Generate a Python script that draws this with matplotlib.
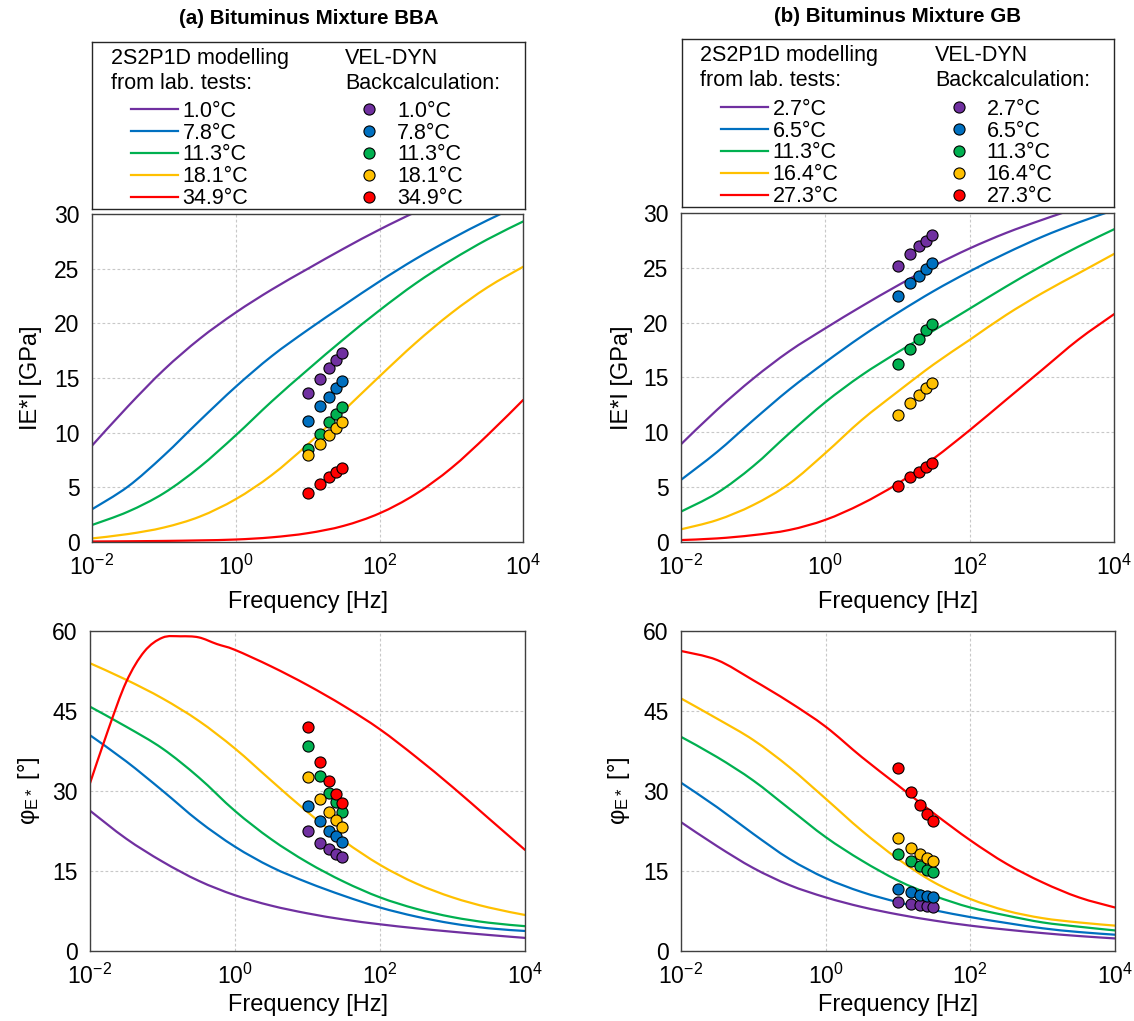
import numpy as np
import matplotlib
matplotlib.use("Agg")
import matplotlib.pyplot as plt
from matplotlib.path import Path
from matplotlib.patches import PathPatch
from matplotlib.ticker import FixedLocator, FuncFormatter

plt.rcParams['font.family'] = ['Liberation Sans', 'DejaVu Sans']
plt.rcParams['mathtext.fontset'] = 'custom'
plt.rcParams['mathtext.rm'] = 'Liberation Sans'
plt.rcParams['mathtext.it'] = 'Liberation Sans:italic'
plt.rcParams['mathtext.bf'] = 'Liberation Sans:bold'

# ---- data ----
freq_curve = [0.01, 0.0316, 0.1, 0.316, 1, 3.16, 10, 31.6, 100, 316, 1000, 3162, 10000]
freq_pts = [10, 15, 20, 25, 30]

colors = ['#7030A0', '#0070C0', '#00B050', '#FFC000', '#FF0000']

bba_temps = ['1.0°C', '7.8°C', '11.3°C', '18.1°C', '34.9°C']
gb_temps = ['2.7°C', '6.5°C', '11.3°C', '16.4°C', '27.3°C']

# |E*| model curves [GPa]
bba_E_curves = [
    [8.8, 12.4, 15.75, 18.6, 21.0, 23.1, 25.0, 26.85, 28.6, 30.2, 31.6, 32.8, 33.8],
    [2.97, 5.05, 7.9, 11.1, 14.2, 17.0, 19.4, 21.65, 23.85, 25.9, 27.75, 29.45, 31.0],
    [1.53, 2.75, 4.45, 6.85, 9.75, 12.85, 15.75, 18.55, 21.2, 23.65, 25.8, 27.7, 29.35],
    [0.3, 0.7, 1.3, 2.3, 3.9, 6.1, 8.9, 12.0, 15.15, 18.2, 20.95, 23.3, 25.2],
    [0.02, 0.04, 0.07, 0.12, 0.2, 0.4, 0.78, 1.45, 2.6, 4.35, 6.75, 9.75, 13.0],
]
gb_E_curves = [
    [8.9, 12.05, 14.9, 17.4, 19.5, 21.5, 23.4, 25.2, 26.8, 28.2, 29.4, 30.5, 31.4],
    [5.65, 8.2, 11.1, 13.9, 16.4, 18.75, 20.9, 22.9, 24.7, 26.35, 27.85, 29.15, 30.3],
    [2.75, 4.45, 6.9, 9.9, 12.75, 15.2, 17.3, 19.3, 21.3, 23.3, 25.2, 26.95, 28.55],
    [1.13, 1.98, 3.35, 5.3, 8.1, 11.1, 13.7, 16.2, 18.45, 20.7, 22.7, 24.5, 26.3],
    [0.15, 0.3, 0.6, 1.07, 2.0, 3.45, 5.3, 7.6, 10.2, 12.95, 15.7, 18.45, 20.8],
]

# phase angle model curves [deg]
bba_phi_curves = [
    [26.25, 21.0, 16.7, 13.1, 10.4, 8.45, 7.0, 5.85, 4.95, 4.2, 3.55, 2.95, 2.4],
    [40.4, 35.5, 30.0, 24.3, 19.5, 15.7, 12.8, 10.3, 8.1, 6.4, 5.1, 4.2, 3.7],
    [45.75, 42.0, 37.9, 32.5, 26.2, 20.9, 16.55, 12.95, 10.0, 7.85, 6.3, 5.25, 4.6],
    [53.9, 50.8, 47.3, 43.1, 37.9, 31.9, 26.0, 20.6, 16.1, 12.6, 10.0, 8.1, 6.7],
]
# the 34.9°C phase curve needs a denser frequency list around its peak
bba_phi_red_freq = [0.01, 0.0178, 0.0316, 0.0562, 0.1, 0.178, 0.316, 0.562,
                    1, 3.16, 10, 31.6, 100, 316, 1000, 3162, 10000]
bba_phi_red = [31.4, 41.4, 50.4, 56.1, 58.7, 58.95, 58.75, 57.5,
               56.4, 53.3, 49.8, 45.9, 41.5, 36.3, 30.7, 24.8, 18.9]

gb_phi_curves = [
    [24.1, 19.6, 15.5, 12.3, 10.0, 8.2, 6.8, 5.65, 4.7, 3.95, 3.3, 2.75, 2.3],
    [31.5, 26.9, 21.9, 17.2, 13.6, 11.0, 9.1, 7.6, 6.3, 5.2, 4.2, 3.5, 3.0],
    [40.1, 36.3, 31.9, 26.6, 21.3, 16.9, 13.15, 10.3, 8.1, 6.6, 5.3, 4.5, 3.8],
    [47.3, 43.5, 39.5, 34.4, 28.5, 22.5, 17.2, 12.8, 9.7, 7.5, 6.1, 5.3, 4.7],
]
gb_phi_red = [56.2, 54.5, 50.7, 46.6, 42.0, 36.3, 31.0, 25.7, 20.7, 16.3, 12.8, 10.0, 8.1]

# VEL-DYN backcalculated points
bba_E_pts = [
    [13.6, 14.9, 15.9, 16.65, 17.3],
    [11.07, 12.4, 13.3, 14.06, 14.7],
    [8.45, 9.88, 10.95, 11.7, 12.3],
    [7.9, 8.97, 9.8, 10.4, 10.98],
    [4.45, 5.3, 5.9, 6.35, 6.77],
]
gb_E_pts = [
    [25.2, 26.3, 27.0, 27.5, 28.0],
    [22.4, 23.6, 24.3, 24.9, 25.5],
    [16.25, 17.6, 18.5, 19.3, 19.85],
    [11.55, 12.7, 13.4, 14.0, 14.5],
    [5.05, 5.9, 6.4, 6.85, 7.2],
]
bba_phi_pts = [
    [22.4, 20.25, 19.0, 18.2, 17.55],
    [27.2, 24.3, 22.45, 21.45, 20.4],
    [38.3, 32.7, 29.65, 27.8, 26.1],
    [32.5, 28.4, 26.05, 24.55, 23.25],
    [41.95, 35.3, 31.8, 29.4, 27.75],
]
gb_phi_pts = [
    [9.08, 8.78, 8.5, 8.3, 8.27],
    [11.6, 10.96, 10.5, 10.2, 10.0],
    [18.2, 16.8, 15.85, 15.2, 14.7],
    [21.1, 19.3, 18.2, 17.4, 16.8],
    [34.3, 29.8, 27.3, 25.6, 24.25],
]

# ---- layout helpers (pixel boxes) ----
W, H = 1134, 1021
fig = plt.figure(figsize=(W / 100, H / 100), dpi=100)


def px_axes(l, t, r, b):
    return fig.add_axes([l / W, 1 - b / H, (r - l) / W, (b - t) / H])


TICK_FS = 16.5
LAB_FS = 17
LEG_FS = 15.5


def smooth_line(ax, freqs, vals, color):
    # Excel-style smoothed line: Catmull-Rom segments as cubic Beziers in log-x space
    x = np.log10(np.asarray(freqs, float))
    y = np.asarray(vals, float)
    xp = np.r_[x[0], x, x[-1]]
    yp = np.r_[y[0], y, y[-1]]
    verts = [(x[0], y[0])]
    codes = [Path.MOVETO]
    for i in range(1, len(xp) - 2):
        c1 = (xp[i] + (xp[i + 1] - xp[i - 1]) / 6, yp[i] + (yp[i + 1] - yp[i - 1]) / 6)
        c2 = (xp[i + 1] - (xp[i + 2] - xp[i]) / 6, yp[i + 1] - (yp[i + 2] - yp[i]) / 6)
        verts += [c1, c2, (xp[i + 1], yp[i + 1])]
        codes += [Path.CURVE4] * 3
    verts = np.array(verts)
    verts[:, 0] = 10 ** verts[:, 0]
    ax.add_patch(PathPatch(Path(verts, codes), fill=False, edgecolor=color,
                           lw=1.6, zorder=2, capstyle='round'))


def style_axes(ax, ymax, ystep, ylabel, ylab_x, xlab_y):
    ax.set_xscale('log')
    ax.set_xlim(1e-2, 1e4)
    ax.set_ylim(0, ymax)
    ax.xaxis.set_major_locator(FixedLocator([1e-2, 1, 1e2, 1e4]))
    ax.xaxis.set_minor_locator(FixedLocator([]))
    ax.xaxis.set_major_formatter(FuncFormatter(
        lambda v, p: r'$\mathregular{10^{%d}}$' % int(round(np.log10(v)))))
    ax.set_yticks(np.arange(0, ymax + 0.1, ystep))
    ax.tick_params(length=0, labelsize=TICK_FS)
    ax.tick_params(axis='y', pad=9)
    ax.tick_params(axis='x', pad=9)
    ax.grid(True, which='major', ls=(0, (2.5, 2)), color='#C8C8C8', lw=0.8)
    ax.set_axisbelow(True)
    for s in ax.spines.values():
        s.set_color('#404040')
        s.set_linewidth(1.0)
    ax.set_ylabel(ylabel, fontsize=LAB_FS)
    ax.yaxis.set_label_coords(ylab_x, 0.5)
    ax.set_xlabel('Frequency [Hz]', fontsize=LAB_FS)
    ax.xaxis.set_label_coords(0.5, xlab_y)


def draw_panel(ax, curves, curve_freqs, pts):
    for c, f, y in zip(colors, curve_freqs, curves):
        smooth_line(ax, f, y, c)
    for c, y in zip(colors, pts):
        ax.plot(freq_pts, y, 'o', ms=8, mfc=c, mec='black', mew=0.8,
                ls='none', zorder=3)


def draw_legend(l, t, r, b, temps, x_line, x_dot, x_head2, row_mid):
    lax = px_axes(l, t, r, b)
    lax.set_xticks([])
    lax.set_yticks([])
    for s in lax.spines.values():
        s.set_color('#262626')
        s.set_linewidth(1.0)
    lines = [plt.Line2D([], [], color=c, lw=1.6) for c in colors]
    dots = [plt.Line2D([], [], marker='o', ms=8, mfc=c, mec='black', mew=0.8,
                       ls='none') for c in colors]
    head1_x = l + 18.5
    fig.text(head1_x / W, 1 - (t + 16.5) / H, '2S2P1D modelling',
             fontsize=LEG_FS, va='center', ha='left')
    fig.text(head1_x / W, 1 - (t + 41.5) / H, 'from lab. tests:',
             fontsize=LEG_FS, va='center', ha='left')
    fig.text(x_head2 / W, 1 - (t + 16.5) / H, 'VEL-DYN',
             fontsize=LEG_FS, va='center', ha='left')
    fig.text(x_head2 / W, 1 - (t + 41.5) / H, 'Backcalculation:',
             fontsize=LEG_FS, va='center', ha='left')
    fig.legend(lines, temps, loc='center left',
               bbox_to_anchor=(x_line / W, 1 - row_mid / H),
               frameon=False, fontsize=LEG_FS, handlelength=2.2,
               handletextpad=0.2, labelspacing=0.04, borderpad=0,
               borderaxespad=0)
    fig.legend(dots, temps, loc='center left',
               bbox_to_anchor=((x_dot - 12.9) / W, 1 - row_mid / H),
               frameon=False, fontsize=LEG_FS, handlelength=1.2,
               handletextpad=0.7, labelspacing=0.04, borderpad=0,
               borderaxespad=0)


# ---- panels ----
ax_tl = px_axes(92, 214.3, 523.3, 541.7)
draw_panel(ax_tl, bba_E_curves, [freq_curve] * 5, bba_E_pts)
style_axes(ax_tl, 30, 5, 'IE*I [GPa]', -0.116, -0.150)

ax_tr = px_axes(681, 213.3, 1114.3, 541.7)
draw_panel(ax_tr, gb_E_curves, [freq_curve] * 5, gb_E_pts)
style_axes(ax_tr, 30, 5, 'IE*I [GPa]', -0.111, -0.150)

ax_bl = px_axes(90, 630.7, 525, 950.7)
draw_panel(ax_bl, bba_phi_curves + [bba_phi_red],
           [freq_curve] * 4 + [bba_phi_red_freq], bba_phi_pts)
style_axes(ax_bl, 60, 15, r'φ$_{\mathregular{E*}}$ [°]', -0.110, -0.135)

ax_br = px_axes(681, 630.7, 1115, 950.7)
draw_panel(ax_br, gb_phi_curves + [gb_phi_red], [freq_curve] * 5, gb_phi_pts)
style_axes(ax_br, 60, 15, r'φ$_{\mathregular{E*}}$ [°]', -0.113, -0.135)

# ---- legend boxes ----
draw_legend(92.3, 41.7, 525, 209, bba_temps, 131, 369.3, 345, 155)
draw_legend(681.7, 39.3, 1114, 206.7, gb_temps, 721, 958.5, 935, 153)

# ---- titles ----
fig.text(309 / W, 1 - 18 / H, '(a) Bituminus Mixture BBA', fontsize=14.8,
         fontweight='bold', ha='center', va='center')
fig.text(898 / W, 1 - 17 / H, '(b) Bituminus Mixture GB', fontsize=14.8,
         fontweight='bold', ha='center', va='center')

fig.savefig('out.png', dpi=100)
